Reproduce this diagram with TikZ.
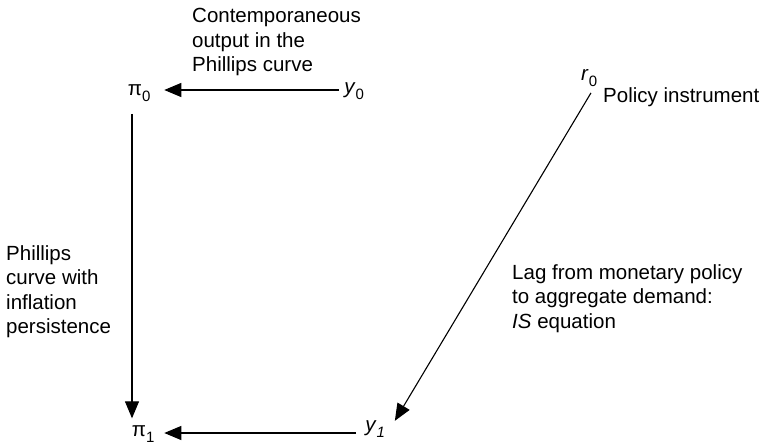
\documentclass[tikz,border=0pt]{standalone}
\usepackage{fontspec}
\setmainfont{Liberation Sans}
\usetikzlibrary{arrows.meta,calc}
\newcommand{\lowsub}[1]{\rlap{\raisebox{-0.3em}{\fontsize{15}{15}\selectfont #1}}}
\begin{document}
\begin{tikzpicture}[x=1pt,y=1pt,
  every node/.style={font=\fontsize{20.5}{24.5}\selectfont, inner sep=0pt},
  txt/.style={align=left, anchor=north west},
  arr/.style={line width=1.1pt, -{Triangle[length=17pt,width=14pt]}}]
\useasboundingbox (0,0) rectangle (771,-447);
\node (pi0) at (135,-93) {π\lowsub{0}};
\node (y0) at (350,-91) {\textit{y}\lowsub{0}};
\node (r0) at (585,-78) {\textit{r}\lowsub{0}};
\node (pi1) at (139,-434) {π\lowsub{1}};
\node (y1) at (371,-429) {\textit{y}\lowsub{\textit{1}}};
\node[txt] (ct) at (192,-8) {Contemporaneous\\output in the\\Phillips curve};
\node[txt] (pt) at (6,-245) {Phillips\\curve with\\inflation\\persistence};
\node[txt] (lt) at (512,-264) {Lag from monetary policy\\to aggregate demand:\\\textit{IS} equation};
\node[anchor=west] (pol) at (603,-97) {Policy instrument};
\draw[arr] ($(y0.west)+(-5,1)$) -- ($(y0.west -| pi0.east)+(22,1)$);
\draw[arr] ($(y1.west |- pi1.east)+(-9,1)$) -- ($(pi1.east)+(18,1)$);
\draw[arr] ($(pi0.south)+(-3,-12)$) -- ($(pi0.south |- pi1.north)+(-3,7)$);
\draw[arr] ($(r0.south)+(6,-6)$) -- ($(y1.north east)+(18,-0.5)$);
\end{tikzpicture}
\end{document}
